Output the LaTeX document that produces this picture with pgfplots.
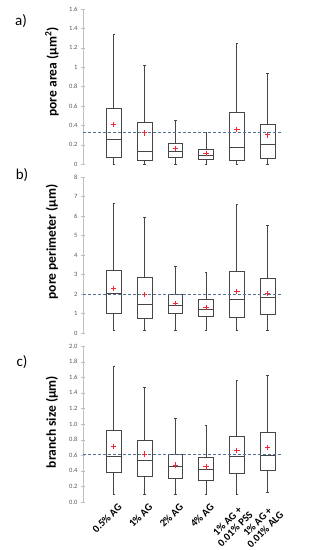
\documentclass[border=0pt]{standalone}
\usepackage{fontspec}
\setmainfont{Carlito}
\usepackage{pgfplots}
\pgfplotsset{compat=1.18}
\usepgfplotslibrary{statistics}
\definecolor{boxc}{RGB}{70,70,70}
\definecolor{dashc}{RGB}{84,110,150}
\definecolor{tickc}{RGB}{85,85,85}
\definecolor{meanc}{RGB}{240,40,50}
\pgfplotsset{
  myaxis/.style={
    scale only axis, width=200pt, height=155pt,
    xmin=-1, xmax=5.5,
    axis lines*=left,
    x axis line style={draw=none}, xtick style={draw=none},
    y axis line style={draw=black!25}, ytick style={draw=black!25},
    tick align=center, major tick length=4pt,
    xtick={0,1,2,3,4,5}, xticklabels={},
    /pgf/number format/assume math mode=true,
    yticklabel style={font=\fontsize{6.5}{7}\selectfont, text=tickc},
    boxplot/draw direction=y,
    boxplot/box extend=0.48,
    boxplot/whisker extend=0.08,
    clip=false,
  },
  bx/.style={draw=boxc, line width=0.75pt, solid, mark=none},
  mn/.style={only marks, mark=+, mark size=2.7pt, color=meanc, mark options={solid, draw=meanc, line width=1pt}},
  dl/.style={dashc, line width=0.9pt, dash pattern=on 3pt off 2pt},
}
\begin{document}
\begin{tikzpicture}
\useasboundingbox (0,0) rectangle (325pt,550pt);
% ---------- a)
\begin{axis}[myaxis, at={(83pt,386pt)}, anchor=south west, ymin=0, ymax=1.6, ytick={0,0.2,...,1.6}]
\addplot[bx, boxplot prepared={draw position=0, lower whisker=0, lower quartile=0.069, median=0.258, upper quartile=0.575, upper whisker=1.342}] coordinates {};
\addplot[bx, boxplot prepared={draw position=1, lower whisker=0, lower quartile=0.034, median=0.131, upper quartile=0.426, upper whisker=1.015}] coordinates {};
\addplot[bx, boxplot prepared={draw position=2, lower whisker=0, lower quartile=0.065, median=0.131, upper quartile=0.217, upper whisker=0.451}] coordinates {};
\addplot[bx, boxplot prepared={draw position=3, lower whisker=0, lower quartile=0.044, median=0.093, upper quartile=0.155, upper whisker=0.323}] coordinates {};
\addplot[bx, boxplot prepared={draw position=4, lower whisker=0, lower quartile=0.038, median=0.175, upper quartile=0.530, upper whisker=1.245}] coordinates {};
\addplot[bx, boxplot prepared={draw position=5, lower whisker=0, lower quartile=0.062, median=0.200, upper quartile=0.410, upper whisker=0.932}] coordinates {};
\addplot[dl] coordinates {(-1,0.323) (5.5,0.323)};
\addplot[mn] coordinates {(0,0.406) (1,0.320) (2,0.162) (3,0.110) (4,0.358) (5,0.300)};
\end{axis}
% ---------- b)
\begin{axis}[myaxis, at={(83pt,217pt)}, anchor=south west, height=156pt, ymin=0, ymax=8, ytick={0,1,...,8}]
\addplot[bx, boxplot prepared={draw position=0, lower whisker=0.14, lower quartile=1.03, median=2.04, upper quartile=3.23, upper whisker=6.63}] coordinates {};
\addplot[bx, boxplot prepared={draw position=1, lower whisker=0.14, lower quartile=0.77, median=1.49, upper quartile=2.84, upper whisker=5.95}] coordinates {};
\addplot[bx, boxplot prepared={draw position=2, lower whisker=0.14, lower quartile=1.01, median=1.44, upper quartile=1.98, upper whisker=3.40}] coordinates {};
\addplot[bx, boxplot prepared={draw position=3, lower whisker=0.14, lower quartile=0.84, median=1.23, upper quartile=1.73, upper whisker=3.09}] coordinates {};
\addplot[bx, boxplot prepared={draw position=4, lower whisker=0.14, lower quartile=0.81, median=1.73, upper quartile=3.14, upper whisker=6.58}] coordinates {};
\addplot[bx, boxplot prepared={draw position=5, lower whisker=0.14, lower quartile=0.96, median=1.83, upper quartile=2.79, upper whisker=5.50}] coordinates {};
\addplot[dl] coordinates {(-1,1.98) (5.5,1.98)};
\addplot[mn] coordinates {(0,2.29) (1,1.98) (2,1.52) (3,1.32) (4,2.14) (5,2.02)};
\end{axis}
% ---------- c)
\begin{axis}[myaxis, at={(83pt,48pt)}, anchor=south west, height=156pt, ymin=0, ymax=2, ytick={0,0.2,...,2.0},
  yticklabel style={/pgf/number format/.cd, fixed, fixed zerofill, precision=1},
  xticklabels={0.5\% AG, 1\% AG, 2\% AG, 4\% AG, {1\% AG +\\0.01\% PSS}, {1\% AG +\\0.01\% ALG}},
  xticklabel style={rotate=45, anchor=north east, align=center, inner sep=0.5pt, xshift=4pt, yshift=-1pt, font=\bfseries\fontsize{10.5}{11}\selectfont}]
\addplot[bx, boxplot prepared={draw position=0, lower whisker=0.099, lower quartile=0.376, median=0.590, upper quartile=0.923, upper whisker=1.740}] coordinates {};
\addplot[bx, boxplot prepared={draw position=1, lower whisker=0.099, lower quartile=0.333, median=0.538, upper quartile=0.795, upper whisker=1.465}] coordinates {};
\addplot[bx, boxplot prepared={draw position=2, lower whisker=0.099, lower quartile=0.303, median=0.457, upper quartile=0.611, upper whisker=1.077}] coordinates {};
\addplot[bx, boxplot prepared={draw position=3, lower whisker=0.099, lower quartile=0.282, median=0.423, upper quartile=0.573, upper whisker=0.987}] coordinates {};
\addplot[bx, boxplot prepared={draw position=4, lower whisker=0.099, lower quartile=0.372, median=0.581, upper quartile=0.842, upper whisker=1.555}] coordinates {};
\addplot[bx, boxplot prepared={draw position=5, lower whisker=0.125, lower quartile=0.406, median=0.593, upper quartile=0.897, upper whisker=1.620}] coordinates {};
\addplot[dl] coordinates {(-1,0.615) (5.5,0.615)};
\addplot[mn] coordinates {(0,0.710) (1,0.615) (2,0.474) (3,0.449) (4,0.663) (5,0.700)};
\end{axis}
% labels
\node[rotate=90, font=\bfseries\fontsize{13.5}{14}\selectfont] at (52pt,478pt) {pore area (µm\textsuperscript{2})};
\node[rotate=90, font=\bfseries\fontsize{13.5}{14}\selectfont] at (52pt,308pt) {pore perimeter (µm)};
\node[rotate=90, font=\bfseries\fontsize{13.5}{14}\selectfont] at (52pt,128pt) {branch size (µm)};
\node[font=\fontsize{15}{16}\selectfont] at (21pt,529pt) {a)};
\node[font=\fontsize{15}{16}\selectfont] at (22pt,375pt) {b)};
\node[font=\fontsize{15}{16}\selectfont] at (22pt,188pt) {c)};
\end{tikzpicture}
\end{document}
